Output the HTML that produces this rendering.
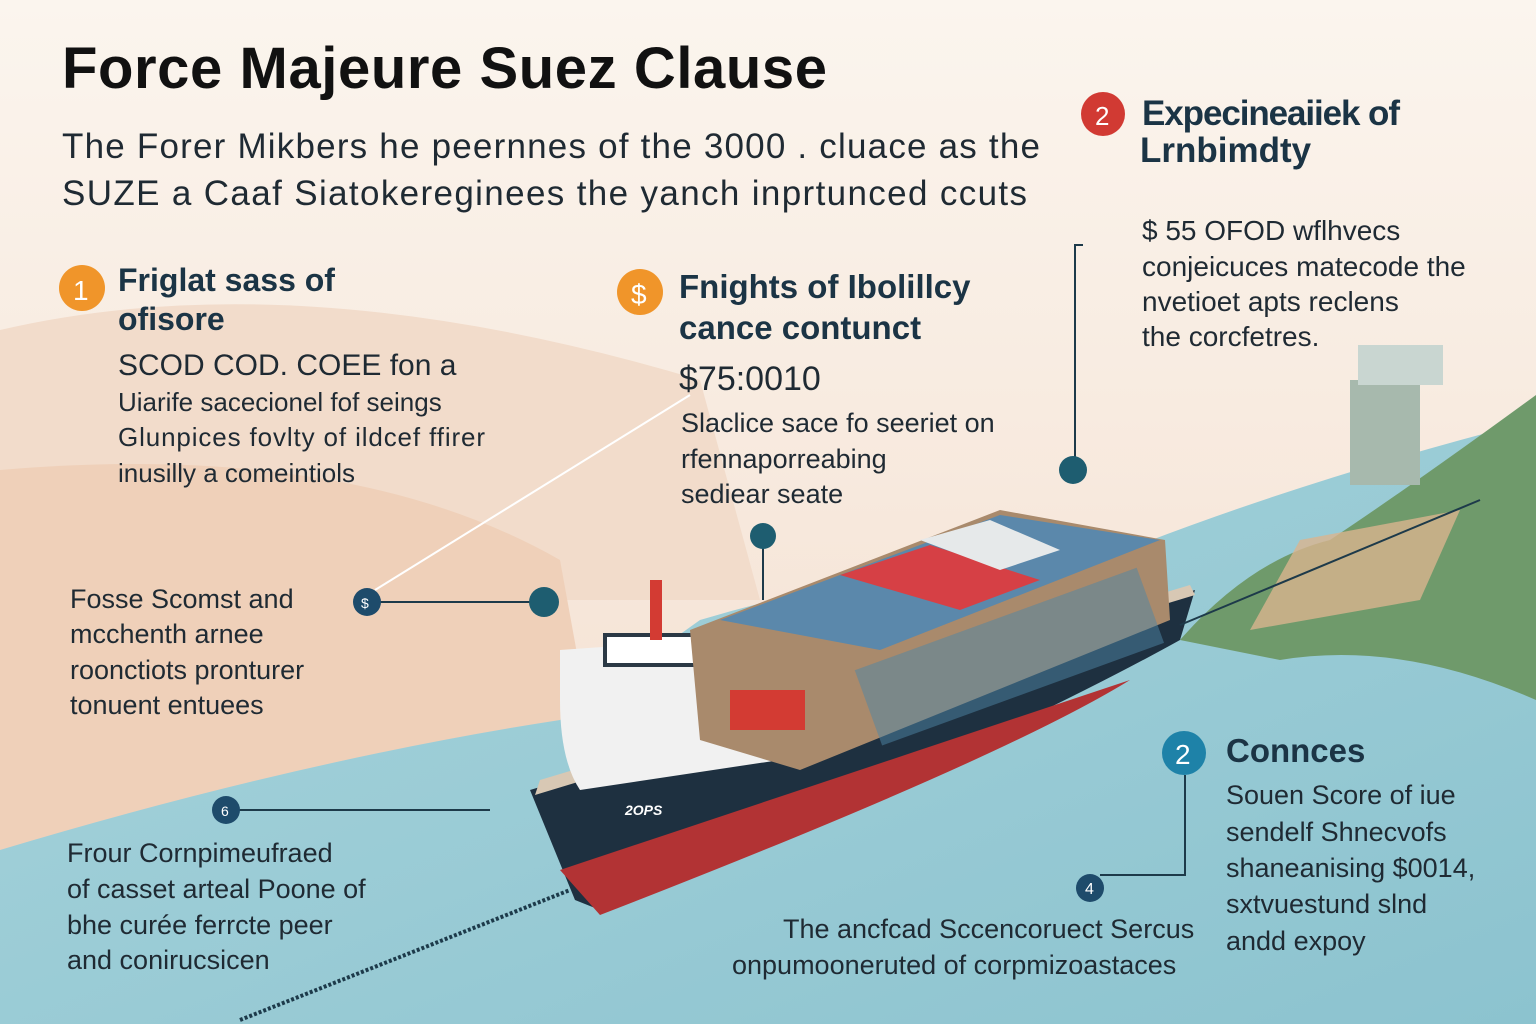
<!DOCTYPE html>
<html><head><meta charset="utf-8"><style>
html,body{margin:0;padding:0;width:1536px;height:1024px;overflow:hidden;background:#f8efe6}
svg{display:block}
text{font-family:"Liberation Sans",sans-serif;fill:#1f2a33}
</style></head><body>
<svg width="1536" height="1024" viewBox="0 0 1536 1024" xmlns="http://www.w3.org/2000/svg">
<defs>
<linearGradient id="bg" x1="0" y1="0" x2="0" y2="1"><stop offset="0" stop-color="#fbf5ee"/><stop offset="1" stop-color="#f3dccb"/></linearGradient>
<linearGradient id="water" x1="0" y1="0" x2="1" y2="1"><stop offset="0" stop-color="#a8d4dc"/><stop offset="1" stop-color="#8cc3cf"/></linearGradient>
</defs>
<rect width="1536" height="1024" fill="url(#bg)"/>
<path d="M0 330 Q300 260 700 380 L760 600 L0 600Z" fill="#f2dccb"/>
<path d="M0 470 Q350 440 560 560 L600 780 L0 860Z" fill="#efd0b9"/>
<path d="M0 850 Q300 760 560 720 L700 620 Q900 560 1100 560 Q1300 480 1536 420 L1536 1024 L0 1024Z" fill="url(#water)"/>
<path d="M1180 640 Q1250 560 1330 540 Q1420 480 1536 395 L1536 700 Q1400 640 1280 660Z" fill="#6f9a6b"/>
<path d="M1250 630 L1300 540 L1460 510 L1420 600Z" fill="#d9b48f" opacity="0.8"/>
<rect x="1350" y="380" width="70" height="105" fill="#a7b9ad"/>
<rect x="1358" y="345" width="85" height="40" fill="#c9d6d1"/>
<!-- ship -->
<path d="M530 790 L1195 590 L1180 640 Q1000 740 600 910 L575 900Z" fill="#1e3040"/>
<path d="M560 870 Q800 790 1130 680 Q1000 760 600 915Z" fill="#b23334"/>
<path d="M540 780 L1190 585 L1195 595 L535 795Z" fill="#d8c8b4"/>
<path d="M560 650 L700 640 L780 760 L580 790 Q560 760 560 700Z" fill="#f1f1f1"/>
<rect x="605" y="635" width="90" height="30" fill="#ffffff" stroke="#2b3945" stroke-width="4"/>
<rect x="650" y="580" width="12" height="60" fill="#d33b33"/>
<path d="M690 630 L1000 510 L1165 540 L1170 620 L800 770 L700 740Z" fill="#a98a6c"/>
<path d="M720 620 L1000 515 L1160 540 L880 650Z" fill="#5b88ab"/>
<path d="M840 575 L930 545 L1040 580 L960 610Z" fill="#d64045"/>
<path d="M920 540 L990 520 L1060 550 L1000 570Z" fill="#e6e9ea"/>
<rect x="730" y="690" width="75" height="40" fill="#d33b33"/>
<rect x="860" y="620" width="300" height="80" fill="#4d86a6" opacity="0.5" transform="rotate(-20 1000 660)"/>
<text x="625" y="815" font-size="14" font-style="italic" font-weight="bold" style="fill:#fff">2OPS</text>
<!-- lines -->
<g stroke="#1d3a4a" stroke-width="2" fill="none">
<line x1="367" y1="602" x2="545" y2="602"/>
<line x1="226" y1="810" x2="490" y2="810"/>
<line x1="763" y1="536" x2="763" y2="600"/>
<polyline points="1083,245 1075,245 1075,470"/>
<polyline points="1185,775 1185,875 1100,875"/>
<line x1="1180" y1="625" x2="1480" y2="500"/>
<line x1="240" y1="1020" x2="570" y2="890" stroke-width="4" stroke-dasharray="3 2"/>
<line x1="375" y1="590" x2="690" y2="395" stroke="#fff"/>
</g>
<circle cx="544" cy="602" r="15" fill="#1e5d70"/>
<circle cx="763" cy="536" r="13" fill="#1e5d70"/>
<circle cx="1073" cy="470" r="14" fill="#1e5d70"/>
<circle cx="367" cy="602" r="14" fill="#1e4b6b"/><text x="361" y="608" font-size="14" style="fill:#fff">$</text>
<circle cx="226" cy="810" r="14" fill="#1e4b6b"/><text x="221" y="816" font-size="14" style="fill:#fff">6</text>
<circle cx="1090" cy="888" r="14" fill="#1e4b6b"/><text x="1085" y="894" font-size="16" style="fill:#fff">4</text>
<!-- title -->
<text x="62" y="88" font-size="58" font-weight="bold" textLength="765" style="fill:#111">Force Majeure Suez Clause</text>
<text x="62" y="158" font-size="35" textLength="978">The Forer Mikbers he peernnes of the 3000 . cluace as the</text>
<text x="62" y="205" font-size="35" textLength="965">SUZE a Caaf Siatokereginees the yanch inprtunced ccuts</text>
<circle cx="1103" cy="114" r="22" fill="#d13a33"/><text x="1095" y="125" font-size="26" style="fill:#fff">2</text>
<text x="1142" y="125" font-size="35" font-weight="bold" textLength="258" style="fill:#1b3445">Expecineaiiek of</text>
<text x="1140" y="162" font-size="35" font-weight="bold" style="fill:#1b3445">Lrnbimdty</text>
<g font-size="28"><text x="1142" y="240">$ 55 OFOD wflhvecs</text><text x="1142" y="276">conjeicuces matecode the</text><text x="1142" y="311">nvetioet apts reclens</text><text x="1142" y="346">the corcfetres.</text></g>
<circle cx="82" cy="288" r="23" fill="#f0952a"/><text x="73" y="300" font-size="28" style="fill:#fff">1</text>
<text x="118" y="291" font-size="32" font-weight="bold" style="fill:#1b3445">Friglat sass of</text>
<text x="118" y="330" font-size="32" font-weight="bold" style="fill:#1b3445">ofisore</text>
<text x="118" y="375" font-size="30">SCOD COD. COEE fon a</text>
<g font-size="26"><text x="118" y="411">Uiarife sacecionel fof seings</text><text x="118" y="446" textLength="367">Glunpices fovlty of ildcef ffirer</text><text x="118" y="482">inusilly a comeintiols</text></g>
<circle cx="640" cy="292" r="23" fill="#f0952a"/><text x="631" y="304" font-size="28" style="fill:#fff">$</text>
<text x="679" y="298" font-size="33" font-weight="bold" style="fill:#1b3445">Fnights of Ibolillcy</text>
<text x="679" y="339" font-size="33" font-weight="bold" style="fill:#1b3445">cance contunct</text>
<text x="679" y="390" font-size="34">$75:0010</text>
<g font-size="27"><text x="681" y="432">Slaclice sace fo seeriet on</text><text x="681" y="468">rfennaporreabing</text><text x="681" y="503">sediear seate</text></g>
<g font-size="27"><text x="70" y="608">Fosse Scomst and</text><text x="70" y="643">mcchenth arnee</text><text x="70" y="679">roonctiots pronturer</text><text x="70" y="714">tonuent entuees</text></g>
<g font-size="27"><text x="67" y="862">Frour Cornpimeufraed</text><text x="67" y="898">of casset arteal Poone of</text><text x="67" y="934">bhe curée ferrcte peer</text><text x="67" y="969">and conirucsicen</text></g>
<circle cx="1184" cy="753" r="22" fill="#1e82a8"/><text x="1175" y="764" font-size="28" style="fill:#fff">2</text>
<text x="1226" y="762" font-size="33" font-weight="bold" style="fill:#1b3445">Connces</text>
<g font-size="27"><text x="1226" y="804">Souen Score of iue</text><text x="1226" y="841">sendelf Shnecvofs</text><text x="1226" y="877">shaneanising $0014,</text><text x="1226" y="913">sxtvuestund slnd</text><text x="1226" y="950">andd expoy</text></g>
<g font-size="27"><text x="783" y="938">The ancfcad Sccencoruect Sercus</text><text x="732" y="974">onpumooneruted of corpmizoastaces</text></g>
</svg>
</body></html>
